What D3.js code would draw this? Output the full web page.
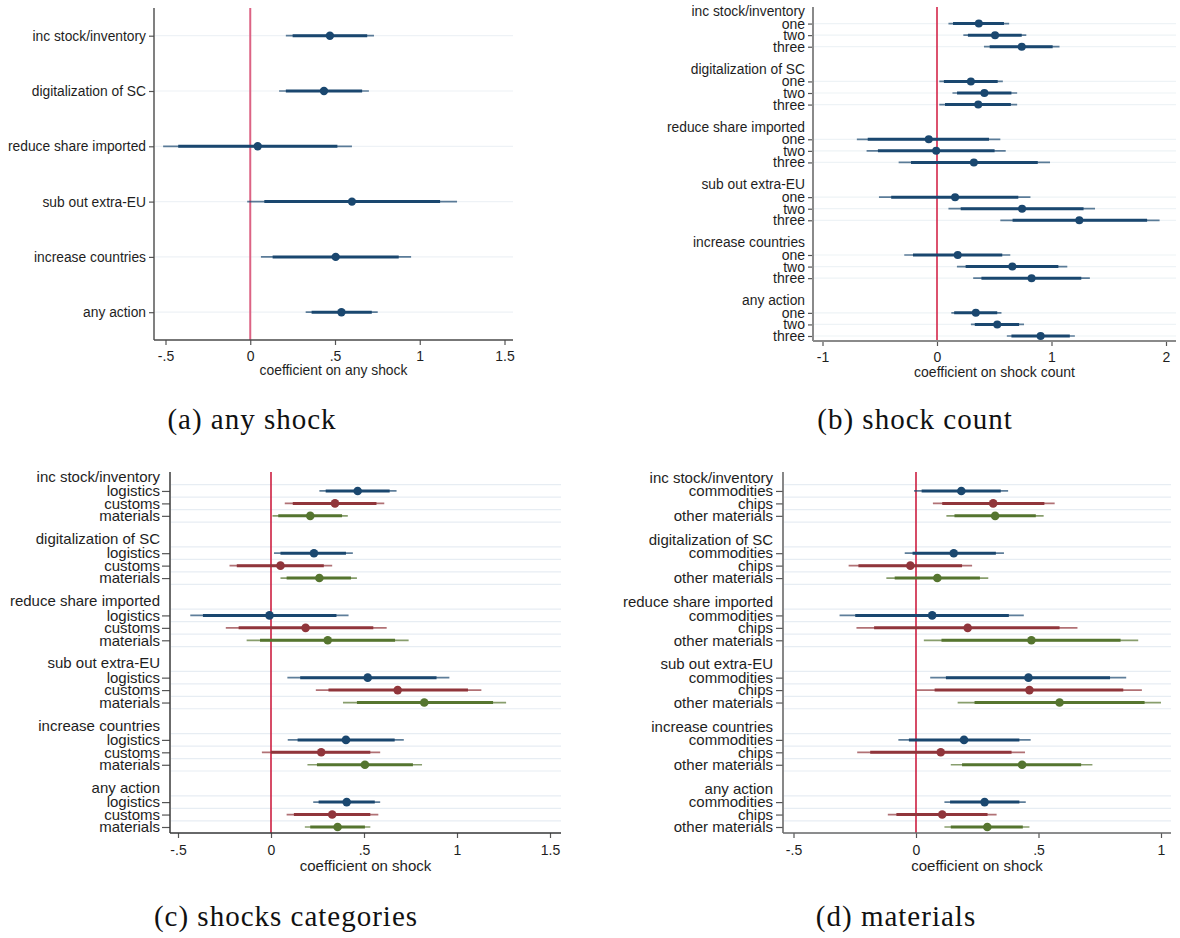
<!DOCTYPE html>
<html>
<head>
<meta charset="utf-8">
<script src="https://cdn.jsdelivr.net/npm/d3@7"></script>
<style>
  body { margin: 0; background: #fff; }
  text { font-family: "Liberation Sans", Arial, Helvetica, sans-serif; fill: #1e1e1e; }
  .caption { font-family: "Liberation Serif", "Times New Roman", serif; font-size: 29px; letter-spacing: 1px; fill: #111; }
</style>
</head>
<body>
<svg id="fig" width="1180" height="938"></svg>
<script>
// ---- outcome rows (shared by all panels) ----
const actions = ["inc stock/inventory", "digitalization of SC", "reduce share imported",
                 "sub out extra-EU", "increase countries", "any action"];

// ---- (a) any shock: point estimate, 90% and 95% intervals ----
const anyB    = [0.47, 0.435, 0.044, 0.60, 0.504, 0.538];
const anyLo90 = [0.25, 0.21, -0.425, 0.083, 0.132, 0.362];
const anyHi90 = [0.69, 0.66, 0.514, 1.12, 0.876, 0.717];
const anyLo95 = [0.21, 0.17, -0.514, -0.018, 0.063, 0.327];
const anyHi95 = [0.73, 0.70, 0.60, 1.22, 0.949, 0.752];
const aTicks = [-0.5, 0, 0.5, 1, 1.5];
const aTickLabels = ["-.5", "0", ".5", "1", "1.5"];

// ---- (b) shock count: [action][one, two, three] ----
const countLabels = ["one", "two", "three"];
const countB = [[0.365, 0.507, 0.74], [0.296, 0.414, 0.36], [-0.072, -0.007, 0.322],
                [0.158, 0.743, 1.243], [0.181, 0.658, 0.826], [0.339, 0.526, 0.905]];
const countLo90 = [[0.14, 0.27, 0.46], [0.06, 0.175, 0.07], [-0.605, -0.516, -0.227],
                   [-0.40, 0.207, 0.66], [-0.21, 0.25, 0.388], [0.15, 0.33, 0.65]];
const countHi90 = [[0.585, 0.74, 1.01], [0.53, 0.65, 0.645], [0.454, 0.503, 0.88],
                   [0.71, 1.28, 1.835], [0.57, 1.06, 1.26], [0.526, 0.717, 1.16]];
const countLo95 = [[0.10, 0.23, 0.41], [0.02, 0.135, 0.02], [-0.70, -0.615, -0.335],
                   [-0.507, 0.10, 0.553], [-0.286, 0.174, 0.316], [0.125, 0.296, 0.61]];
const countHi95 = [[0.63, 0.78, 1.07], [0.575, 0.70, 0.70], [0.553, 0.60, 0.987],
                   [0.816, 1.38, 1.944], [0.64, 1.138, 1.335], [0.563, 0.76, 1.204]];
const bTicks = [-1, 0, 1, 2];
const bTickLabels = ["-1", "0", "1", "2"];

// ---- (c) shock categories: [action][logistics, customs, materials] ----
const shockLabels = ["logistics", "customs", "materials"];
const shockB = [[0.466, 0.344, 0.211], [0.231, 0.051, 0.26], [-0.008, 0.186, 0.305],
                [0.52, 0.681, 0.824], [0.403, 0.27, 0.505], [0.407, 0.329, 0.358]];
const shockLo90 = [[0.294, 0.117, 0.039], [0.051, -0.184, 0.084], [-0.366, -0.174, -0.059],
                   [0.157, 0.309, 0.462], [0.143, 0.0, 0.247], [0.256, 0.123, 0.211]];
const shockHi90 = [[0.638, 0.567, 0.382], [0.403, 0.284, 0.43], [0.352, 0.55, 0.667],
                   [0.89, 1.059, 1.194], [0.665, 0.534, 0.763], [0.558, 0.534, 0.505]];
const shockLo95 = [[0.26, 0.074, 0.008], [0.016, -0.223, 0.051], [-0.434, -0.243, -0.131],
                   [0.088, 0.241, 0.387], [0.09, -0.049, 0.196], [0.227, 0.084, 0.182]];
const shockHi95 = [[0.675, 0.609, 0.413], [0.44, 0.329, 0.462], [0.417, 0.622, 0.74],
                   [0.959, 1.131, 1.264], [0.714, 0.587, 0.812], [0.587, 0.577, 0.534]];
const cTicks = [-0.5, 0, 0.5, 1, 1.5];
const cTickLabels = ["-.5", "0", ".5", "1", "1.5"];

// ---- (d) materials: [action][commodities, chips, other materials] ----
const materialLabels = ["commodities", "chips", "other materials"];
const matB = [[0.185, 0.315, 0.323], [0.154, -0.023, 0.087], [0.066, 0.211, 0.471],
              [0.459, 0.463, 0.586], [0.196, 0.101, 0.433], [0.28, 0.107, 0.291]];
const matLo90 = [[0.023, 0.107, 0.157], [-0.014, -0.235, -0.087], [-0.248, -0.171, 0.104],
                 [0.122, 0.076, 0.239], [-0.029, -0.187, 0.188], [0.139, -0.08, 0.142]];
const matHi90 = [[0.346, 0.524, 0.489], [0.326, 0.188, 0.261], [0.379, 0.586, 0.835],
                 [0.792, 0.846, 0.933], [0.422, 0.39, 0.674], [0.422, 0.292, 0.436]];
const matLo95 = [[-0.008, 0.069, 0.124], [-0.046, -0.275, -0.121], [-0.312, -0.243, 0.032],
                 [0.058, 0.002, 0.17], [-0.072, -0.24, 0.142], [0.116, -0.115, 0.116]];
const matHi95 = [[0.376, 0.566, 0.521], [0.359, 0.229, 0.295], [0.44, 0.659, 0.907],
                 [0.858, 0.922, 1.0], [0.468, 0.445, 0.72], [0.448, 0.329, 0.463]];
const dTicks = [-0.5, 0, 0.5, 1];
const dTickLabels = ["-.5", "0", ".5", "1"];

// ---- series colours ----
const seriesColors = ["#1a476f", "#90353b", "#55752f"];

const svg = d3.select("#fig");

// rows for a grouped panel: header at slot 5*g, items at 5*g + 1..3
function groupedRows(labels, B, L90, H90, L95, H95, colored) {
  const rows = [];
  actions.forEach((a, g) => {
    labels.forEach((lab, k) => {
      rows.push({ slot: g * 5 + k + 1, label: lab, b: B[g][k],
                  lo90: L90[g][k], hi90: H90[g][k], lo95: L95[g][k], hi95: H95[g][k],
                  color: colored ? seriesColors[k] : seriesColors[0] });
    });
  });
  return rows;
}

function drawPanel(o) {
  const g = svg.append("g");
  const x = d3.scaleLinear().domain(o.xDomain).range(o.xRange);
  const y = d3.scaleLinear().domain(o.slotDomain).range(o.slotRange);

  // light horizontal grid
  g.selectAll("line.grid").data(o.gridSlots).join("line")
    .attr("class", "grid")
    .attr("x1", o.left + 1).attr("x2", o.right)
    .attr("y1", d => y(d)).attr("y2", d => y(d))
    .attr("stroke", o.gridColor).attr("stroke-width", 1.2);

  // reference line at zero
  g.append("line")
    .attr("x1", x(0)).attr("x2", x(0)).attr("y1", o.top).attr("y2", o.bottom)
    .attr("stroke", o.zeroColor).attr("stroke-width", o.zeroWidth);

  // 95% intervals (thin), 90% intervals (thick), point estimates
  g.selectAll("line.ci95").data(o.rows).join("line")
    .attr("x1", d => x(d.lo95)).attr("x2", d => x(d.hi95))
    .attr("y1", d => y(d.slot)).attr("y2", d => y(d.slot))
    .attr("stroke", d => d.color).attr("stroke-opacity", 0.7).attr("stroke-width", 1.7);
  g.selectAll("line.ci90").data(o.rows).join("line")
    .attr("x1", d => x(d.lo90)).attr("x2", d => x(d.hi90))
    .attr("y1", d => y(d.slot)).attr("y2", d => y(d.slot))
    .attr("stroke", d => d.color).attr("stroke-width", 3);
  g.selectAll("circle.pt").data(o.rows).join("circle")
    .attr("cx", d => x(d.b)).attr("cy", d => y(d.slot)).attr("r", o.r)
    .attr("fill", d => d.color);

  // left axis with one tick per estimate
  const yAxis = d3.axisLeft(y)
    .tickValues(o.rows.map(d => d.slot))
    .tickFormat((d, i) => o.rows[i].label)
    .tickSize(o.yTick).tickPadding(o.yPad).tickSizeOuter(0);
  const ya = g.append("g").attr("transform", `translate(${o.left},0)`).call(yAxis);
  ya.select(".domain").remove();
  ya.selectAll(".tick line").attr("stroke", "#555").attr("stroke-width", 1.2);
  ya.selectAll(".tick text").attr("font-size", o.labelSize).attr("fill", "#1e1e1e")
    .attr("font-family", null);

  // group headings
  g.selectAll("text.head").data(o.headers).join("text")
    .attr("x", o.left - o.yTick - o.yPad).attr("y", d => y(d.slot) + o.headShift)
    .attr("dy", "0.35em").attr("text-anchor", "end")
    .attr("font-size", o.headSize).text(d => d.label);

  // bottom axis
  const xAxis = d3.axisBottom(x)
    .tickValues(o.ticks).tickFormat((d, i) => o.tickLabels[i])
    .tickSize(5).tickPadding(o.xPad).tickSizeOuter(0);
  const xa = g.append("g").attr("transform", `translate(0,${o.bottom})`).call(xAxis);
  xa.select(".domain").remove();
  xa.selectAll(".tick line").attr("stroke", "#555").attr("stroke-width", 1.2);
  xa.selectAll(".tick text").attr("font-size", 14).attr("fill", "#1e1e1e")
    .attr("font-family", null);

  // axis lines
  g.append("line").attr("x1", o.left).attr("x2", o.left).attr("y1", o.top).attr("y2", o.bottom)
    .attr("stroke", o.axisColor).attr("stroke-width", o.axisWidth);
  g.append("line").attr("x1", o.left).attr("x2", o.right).attr("y1", o.bottom).attr("y2", o.bottom)
    .attr("stroke", o.axisColor).attr("stroke-width", o.axisWidth);

  // axis title
  g.append("text").attr("x", (o.left + o.right) / 2).attr("y", o.titleY)
    .attr("text-anchor", "middle").attr("font-size", o.titleSize).text(o.title);

  // caption
  svg.append("text").attr("class", "caption")
    .attr("x", o.capX).attr("y", o.capY).attr("text-anchor", "middle").text(o.caption);
}

// (a) any shock
drawPanel({
  xDomain: [-0.5, 1.5], xRange: [165.5, 504.5],
  slotDomain: [0, 5], slotRange: [35.7, 312.2],
  left: 154, right: 513, top: 8, bottom: 340,
  rows: actions.map((a, i) => ({ slot: i, label: a, b: anyB[i], lo90: anyLo90[i], hi90: anyHi90[i],
                                 lo95: anyLo95[i], hi95: anyHi95[i], color: seriesColors[0] })),
  headers: [], headShift: 0, headSize: 13.8,
  gridSlots: d3.range(6), gridColor: "#eef2f6",
  zeroColor: "#dc6384", zeroWidth: 2,
  r: 4.2, yTick: 5, yPad: 3, labelSize: 13.8,
  ticks: aTicks, tickLabels: aTickLabels, xPad: 6,
  axisColor: "#4a4a4a", axisWidth: 1.4,
  title: "coefficient on any shock", titleY: 375, titleSize: 13.9,
  caption: "(a) any shock", capX: 252, capY: 429
});

// (b) shock count
drawPanel({
  xDomain: [-1, 2], xRange: [822.5, 1166],
  slotDomain: [0, 28], slotRange: [12, 336],
  left: 813, right: 1176, top: 7, bottom: 341,
  rows: groupedRows(countLabels, countB, countLo90, countHi90, countLo95, countHi95, false),
  headers: actions.map((a, g) => ({ slot: g * 5, label: a })), headShift: -1, headSize: 13.8,
  gridSlots: d3.range(6).flatMap(g => [g * 5 + 1, g * 5 + 2, g * 5 + 3]), gridColor: "#eef3f6",
  zeroColor: "#d4264a", zeroWidth: 1.6,
  r: 4, yTick: 5, yPad: 3, labelSize: 14,
  ticks: bTicks, tickLabels: bTickLabels, xPad: 6,
  axisColor: "#8a8a8a", axisWidth: 2,
  title: "coefficient on shock count", titleY: 377, titleSize: 14,
  caption: "(b) shock count", capX: 915, capY: 429
});

// (c) shock categories
drawPanel({
  xDomain: [-0.5, 1.5], xRange: [178, 550],
  slotDomain: [0, 28], slotRange: [478.5, 827],
  left: 170, right: 561, top: 472, bottom: 833,
  rows: groupedRows(shockLabels, shockB, shockLo90, shockHi90, shockLo95, shockHi95, true),
  headers: actions.map((a, g) => ({ slot: g * 5, label: a })), headShift: -2, headSize: 15,
  gridSlots: d3.range(6).flatMap(g => [g * 5 + 0.5, g * 5 + 1.5, g * 5 + 2.5, g * 5 + 3.5]),
  gridColor: "#e7edf3",
  zeroColor: "#cc1f40", zeroWidth: 1.6,
  r: 4.3, yTick: 8, yPad: 2, labelSize: 15,
  ticks: cTicks, tickLabels: cTickLabels, xPad: 7,
  axisColor: "#3a3a3a", axisWidth: 1.5,
  title: "coefficient on shock", titleY: 871, titleSize: 15,
  caption: "(c) shocks categories", capX: 286, capY: 926
});

// (d) materials
drawPanel({
  xDomain: [-0.5, 1], xRange: [793.5, 1161],
  slotDomain: [0, 28], slotRange: [478.5, 827],
  left: 783, right: 1171, top: 472, bottom: 833,
  rows: groupedRows(materialLabels, matB, matLo90, matHi90, matLo95, matHi95, true),
  headers: actions.map((a, g) => ({ slot: g * 5, label: a })), headShift: -1, headSize: 15,
  gridSlots: d3.range(6).flatMap(g => [g * 5 + 0.5, g * 5 + 1.5, g * 5 + 2.5, g * 5 + 3.5]),
  gridColor: "#e7edf3",
  zeroColor: "#cc1f40", zeroWidth: 1.6,
  r: 4.3, yTick: 7, yPad: 3, labelSize: 15,
  ticks: dTicks, tickLabels: dTickLabels, xPad: 7,
  axisColor: "#6a6a6a", axisWidth: 1.6,
  title: "coefficient on shock", titleY: 871, titleSize: 15,
  caption: "(d) materials", capX: 896, capY: 926
});
</script>
</body>
</html>
